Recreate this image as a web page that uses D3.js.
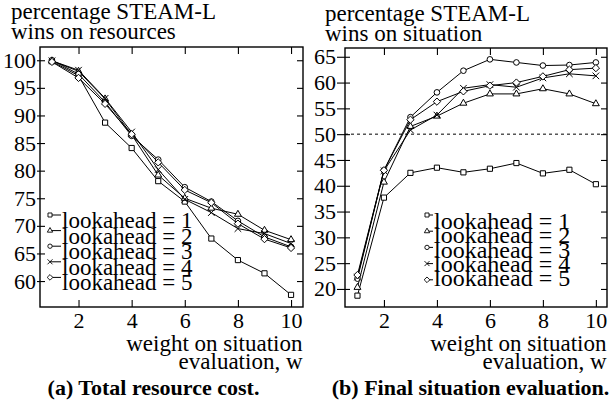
<!DOCTYPE html>
<html>
<head>
<meta charset="utf-8">
<script src="https://cdn.jsdelivr.net/npm/d3@7"></script>
<style>
  body { margin: 0; background: #fff; }
  svg text { font-family: "Liberation Serif", "DejaVu Serif", "Times New Roman", serif !important; fill: #000; }
</style>
</head>
<body>
<div id="chart"></div>
<script>
(function () {
    // data
    const weights = [1, 2, 3, 4, 5, 6, 7, 8, 9, 10];
    const seriesNames = ["lookahead = 1", "lookahead = 2", "lookahead = 3", "lookahead = 4", "lookahead = 5"];

    // (a) resources
    const resL1 = [99.8, 97.2, 88.7, 84.1, 78.1, 74.4, 67.7, 63.8, 61.4, 57.5];
    const resL2 = [99.9, 98.0, 93.0, 86.5, 79.2, 75.0, 73.2, 72.1, 69.2, 67.5];
    const resL3 = [100.0, 97.5, 92.4, 86.3, 82.0, 77.0, 74.4, 70.9, 68.0, 66.2];
    const resL4 = [99.9, 98.2, 93.1, 87.0, 80.2, 74.8, 72.4, 69.5, 68.6, 66.8];
    const resL5 = [99.7, 96.8, 92.1, 86.6, 81.5, 76.5, 74.2, 70.4, 67.6, 66.0];

    // (b) situation
    const sitL1 = [18.7, 37.7, 42.5, 43.5, 42.6, 43.3, 44.4, 42.4, 43.1, 40.3];
    const sitL2 = [20.3, 40.7, 51.5, 53.5, 56.0, 57.8, 57.8, 58.8, 57.8, 55.9];
    const sitL3 = [22.0, 43.0, 53.3, 58.1, 62.3, 64.5, 63.9, 63.3, 63.4, 63.9];
    const sitL4 = [22.3, 42.9, 50.8, 53.7, 58.9, 59.6, 59.1, 60.9, 61.7, 61.3];
    const sitL5 = [22.7, 43.0, 52.8, 56.3, 58.3, 59.4, 60.0, 61.2, 62.5, 62.8];

    const xTicks = [2, 4, 6, 8, 10];
    const resTicks = [60, 65, 70, 75, 80, 85, 90, 95, 100];
    const sitTicks = [20, 25, 30, 35, 40, 45, 50, 55, 60, 65];

    const FONT = '"Liberation Serif", "DejaVu Serif", "Times New Roman", serif';

    const W = 613, H = 404;
    const svg = d3.select("#chart").append("svg")
        .attr("width", W)
        .attr("height", H)
        .attr("font-family", FONT);

    // marker shapes, one per lookahead
    const shapes = [
        d3.symbolSquare2 || d3.symbolSquare,
        d3.symbolTriangle2 || d3.symbolTriangle,
        d3.symbolCircle,
        d3.symbolTimes || d3.symbolCross,
        d3.symbolDiamond2 || d3.symbolDiamond
    ];
    const sizes = [34, 34, 25, 30, 34];

    function txt(sel, size) {
        return sel.attr("font-family", FONT)
            .style("font-family", FONT)
            .style("font-size", size + "px");
    }

    function drawPanel(p) {
        const g = svg.append("g").attr("transform", `translate(${p.left},${p.top})`);
        const w = p.right - p.left, h = p.bottom - p.top;

        const x = d3.scaleLinear().domain(p.xDomain).range([0, w]);
        const y = d3.scaleLinear().domain(p.yDomain).range([h, 0]);

        // reference line
        if (p.refLine != null) {
            g.append("line")
                .attr("x1", 0).attr("x2", w)
                .attr("y1", y(p.refLine)).attr("y2", y(p.refLine))
                .attr("stroke", "#000")
                .attr("stroke-width", 1)
                .attr("stroke-dasharray", "3,3");
        }

        // axes
        const yAx = g.append("g")
            .call(d3.axisLeft(y).tickValues(p.yTicks).tickSize(p.yTickOut).tickPadding(p.yPad).tickSizeOuter(0));
        yAx.attr("font-family", null).attr("font-size", null);
        yAx.selectAll(".tick line").attr("x1", 5).attr("stroke-width", 1.1);
        txt(yAx.selectAll(".tick text"), 22);
        yAx.select(".domain").remove();

        const xAx = g.append("g")
            .attr("transform", `translate(0,${h})`)
            .call(d3.axisBottom(x).tickValues(xTicks).tickSize(-7).tickPadding(4).tickSizeOuter(0));
        xAx.attr("font-family", null).attr("font-size", null);
        xAx.selectAll(".tick line").attr("stroke-width", 1.1);
        txt(xAx.selectAll(".tick text"), 22).attr("y", 21).attr("dy", 0);
        xAx.select(".domain").remove();

        // mirrored ticks top / right
        const tAx = g.append("g")
            .call(d3.axisTop(x).tickValues(xTicks).tickSize(-7).tickFormat("").tickSizeOuter(0));
        tAx.select(".domain").remove();
        tAx.selectAll(".tick line").attr("stroke-width", 1.1);
        const rAx = g.append("g")
            .attr("transform", `translate(${w},0)`)
            .call(d3.axisRight(y).tickValues(p.yTicks).tickSize(-6).tickFormat("").tickSizeOuter(0));
        rAx.select(".domain").remove();
        rAx.selectAll(".tick line").attr("stroke-width", 1.1);

        // frame
        g.append("rect")
            .attr("width", w).attr("height", h)
            .attr("fill", "none")
            .attr("stroke", "#000")
            .attr("stroke-width", 1.4);

        const line = d3.line()
            .x((d, i) => x(weights[i]))
            .y(d => y(d));

        p.series.forEach((vals, k) => {
            g.append("path")
                .datum(vals)
                .attr("d", line)
                .attr("fill", "none")
                .attr("stroke", "#000")
                .attr("stroke-width", 1);
            g.selectAll(null)
                .data(vals)
                .enter()
                .append("path")
                .attr("transform", (d, i) => `translate(${x(weights[i])},${y(d)})`)
                .attr("d", d3.symbol().type(shapes[k]).size(sizes[k]))
                .attr("fill", "#fff")
                .attr("stroke", "#000")
                .attr("stroke-width", 1);
        });

        // legend
        const lg = svg.append("g");
        seriesNames.forEach((name, k) => {
            const my = p.legMarkY + k * p.legMarkStep;
            lg.append("line")
                .attr("x1", p.legMarkX).attr("x2", p.legTextX - 1)
                .attr("y1", my).attr("y2", my)
                .attr("stroke", "#000").attr("stroke-width", 1);
            lg.append("path")
                .attr("transform", `translate(${p.legMarkX},${my})`)
                .attr("d", d3.symbol().type(shapes[k]).size(sizes[k] * 0.6))
                .attr("fill", "#fff")
                .attr("stroke", "#000")
                .attr("stroke-width", 0.9);
            txt(lg.append("text"), p.legFont)
                .attr("x", p.legTextX)
                .attr("y", p.legTextY + k * p.legTextStep)
                .text(name);
        });

        // y title (two lines, top-left)
        p.yTitle.forEach((t, i) => {
            txt(svg.append("text"), 23)
                .attr("x", p.yTitleX)
                .attr("y", p.yTitleY + i * 20.5)
                .text(t);
        });

        // x title (right aligned)
        ["weight on situation", "evaluation, w"].forEach((t, i) => {
            txt(svg.append("text"), 23)
                .attr("x", p.right - 0.5)
                .attr("y", 350.5 + i * 18)
                .attr("text-anchor", "end")
                .text(t);
        });

        // caption
        txt(svg.append("text"), 22)
            .attr("x", p.capX)
            .attr("y", 395)
            .attr("text-anchor", "middle")
            .style("font-weight", "bold")
            .text(p.caption);
    }

    drawPanel({
        left: 40, right: 303, top: 47, bottom: 307,
        xDomain: [0.55, 10.45], yDomain: [55.3, 102.4],
        yTicks: resTicks, yTickOut: 3, yPad: 1,
        series: [resL1, resL2, resL3, resL4, resL5],
        legMarkX: 50, legMarkY: 215, legMarkStep: 15.6,
        legTextX: 62, legTextY: 228.3, legTextStep: 15.5, legFont: 23,
        yTitle: ["percentage STEAM-L", "wins on resources"], yTitleX: 11, yTitleY: 18.5,
        caption: "(a) Total resource cost.", capX: 153.5
    });

    drawPanel({
        left: 345, right: 607, top: 48, bottom: 307,
        xDomain: [0.53, 10.42], yDomain: [16.5, 66.7],
        yTicks: sitTicks, yTickOut: 8, yPad: 1,
        series: [sitL1, sitL2, sitL3, sitL4, sitL5],
        legMarkX: 427, legMarkY: 215, legMarkStep: 16.2,
        legTextX: 434, legTextY: 229, legTextStep: 14.3, legFont: 24,
        refLine: 50,
        yTitle: ["percentage STEAM-L", "wins on situation"], yTitleX: 325, yTitleY: 20.5,
        caption: "(b) Final situation evaluation.", capX: 470.5
    });
})();
</script>
</body>
</html>
